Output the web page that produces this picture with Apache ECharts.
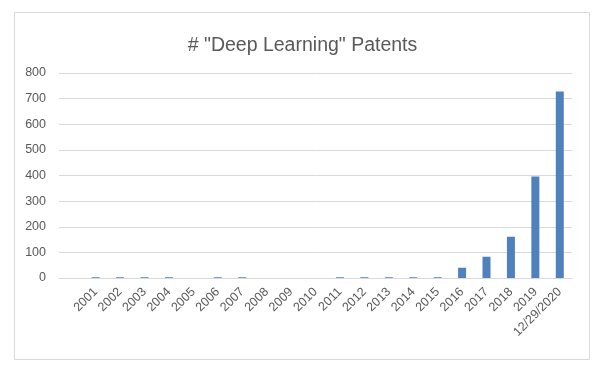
<!DOCTYPE html>
<html><head><meta charset="utf-8">
<script src="https://cdn.jsdelivr.net/npm/echarts@6/dist/echarts.min.js"></script>
<style>html,body{margin:0;padding:0;background:#fff}#c{width:605px;height:375px}</style>
</head><body><div id="c"></div>
<script>
const categories = ["", "2001","2002","2003","2004","2005","2006","2007","2008","2009","2010","2011","2012","2013","2014","2015","2016","2017","2018","2019","12/29/2020"];
const patents = [null, 3,3,3,3,0,3,3,0,0,0,3,3,3,3,3,40,83,161,396,728];
const yTicks = [0,100,200,300,400,500,600,700,800];
const chart = echarts.init(document.getElementById('c'), null, {renderer:'canvas'});
const font = 'Liberation Sans, Arial, sans-serif';
chart.setOption({
  animation:false,
  backgroundColor:'#fff',
  title:{text:'# "Deep Learning" Patents', left:'center', top:31,
    textStyle:{fontFamily:font, fontSize:19.5, fontWeight:'normal', color:'#595959'}},
  graphic:[{type:'rect', shape:{x:14.5,y:12.5,width:575,height:347}, style:{fill:'none', stroke:'#d9d9d9', lineWidth:1}, silent:true}],
  grid:{left:59, right:33, top:73, bottom:97},
  xAxis:{type:'category', data:categories, boundaryGap:true,
    axisLine:{lineStyle:{color:'#d9d9d9', width:1}}, axisTick:{show:false},
    axisLabel:{rotate:45, interval:0, fontFamily:font, fontSize:12.5, color:'#595959', margin:12}},
  yAxis:{type:'value', min:yTicks[0], max:yTicks[yTicks.length-1], interval:100,
    axisLine:{show:false}, axisTick:{show:false},
    splitLine:{lineStyle:{color:'#d9d9d9', width:1}},
    axisLabel:{fontFamily:font, fontSize:12.5, color:'#595959', margin:13}},
  series:[{type:'bar', data:patents, barWidth:8, itemStyle:{color:'#4f81bd'}}]
});
</script></body></html>
